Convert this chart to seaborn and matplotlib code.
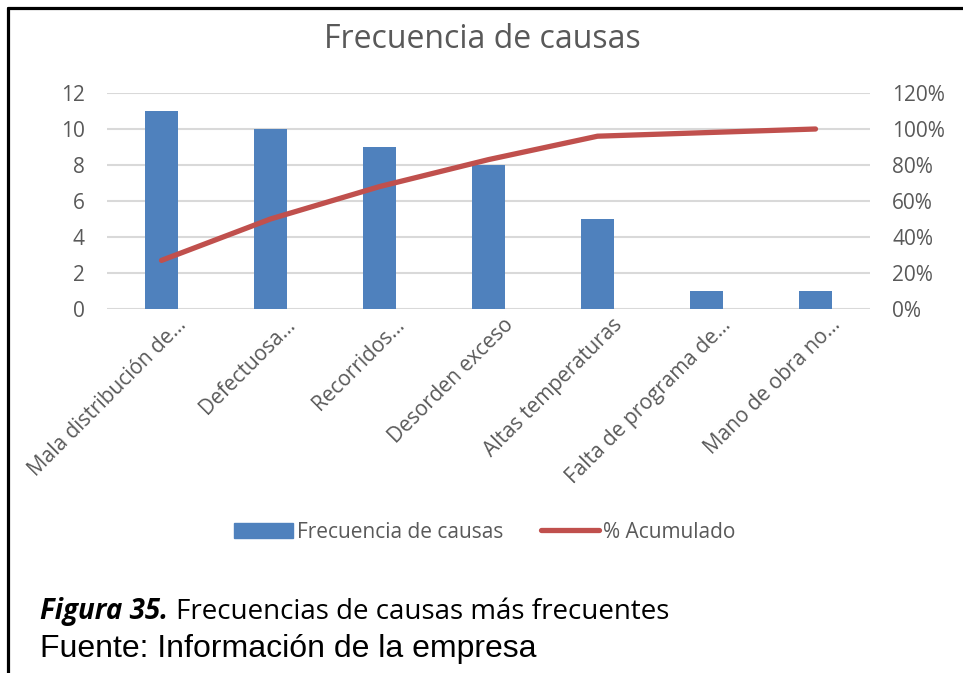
import numpy as np
import pandas as pd
import matplotlib.pyplot as plt
import matplotlib.transforms as mtrans
import seaborn as sns
from matplotlib.lines import Line2D
from matplotlib.ticker import FuncFormatter

# Data
causas = ['Mala distribución de...', 'Defectuosa...', 'Recorridos...',
          'Desorden exceso', 'Altas temperaturas', 'Falta de programa de...',
          'Mano de obra no...']
frecuencia = [11, 10, 9, 8, 5, 1, 1]
acumulado = [0.27, 0.50, 0.68, 0.83, 0.96, 0.98, 1.00]

BLUE = '#4F81BD'
RED = '#C0504D'
GRAY = '#595959'
GRID = '#D9D9D9'

sns.set_style('white')
plt.rcParams['font.family'] = ['Open Sans', 'DejaVu Sans']

df = pd.DataFrame({'causa': causas, 'frecuencia': frecuencia, 'acumulado': acumulado})

W, H = 963, 673
fig = plt.figure(figsize=(W / 100, H / 100), dpi=100)

# axes placed in pixel coords
left, right, top, bottom = 107, 870, 93, 309
ax = fig.add_axes([left / W, 1 - bottom / H, (right - left) / W, (bottom - top) / H])

sns.barplot(data=df, x='causa', y='frecuencia', color=BLUE, width=0.31,
            saturation=1, linewidth=0, ax=ax, zorder=3)
ax.set_ylim(0, 12)
ax.set_yticks(np.arange(0, 13, 2))
ax.set_xlim(-0.5, len(causas) - 0.5)
ax.yaxis.grid(True, color=GRID, linewidth=1.5, zorder=0)
ax.set_axisbelow(True)
ax.set_xlabel('')
ax.set_ylabel('')
for s in ax.spines.values():
    s.set_visible(False)
ax.tick_params(axis='y', length=0, pad=16, labelsize=15, labelcolor=GRAY)
ax.tick_params(axis='x', length=0, pad=4, labelsize=15, labelcolor=GRAY)
ax.set_xticks(range(len(causas)))
ax.set_xticklabels(causas, rotation=45, ha='right', rotation_mode='anchor')
offset = mtrans.ScaledTranslation(14 / 100, 0, fig.dpi_scale_trans)
for lbl in ax.get_xticklabels():
    lbl.set_transform(lbl.get_transform() + offset)

ax2 = ax.twinx()
sns.lineplot(data=df, x='causa', y='acumulado', color=RED, linewidth=3.8,
             ax=ax2, solid_capstyle='round', zorder=4)
ax2.set_ylim(0, 1.2)
ax2.set_yticks(np.arange(0, 1.21, 0.2))
ax2.yaxis.set_major_formatter(FuncFormatter(lambda v, p: f'{v * 100:.0f}%'))
ax2.set_ylabel('')
for s in ax2.spines.values():
    s.set_visible(False)
ax2.tick_params(axis='y', length=0, pad=16, labelsize=15, labelcolor=GRAY)

fig.text(482 / W, 1 - 40 / H, 'Frecuencia de causas', ha='center', va='center',
         fontsize=23, color=GRAY)

handles = [plt.Rectangle((0, 0), 1, 1, color=BLUE),
           Line2D([0], [0], color=RED, linewidth=3.8, solid_capstyle='round')]
fig.legend(handles, ['Frecuencia de causas', '% Acumulado'], loc='center',
           bbox_to_anchor=(485 / W, 1 - 532 / H), ncol=2, frameon=False,
           fontsize=15, labelcolor=GRAY, handlelength=2.8, handleheight=0.75,
           handletextpad=0.2, columnspacing=1.8)

# caption
t1 = fig.text(40 / W, 1 - 612 / H, 'Figura 35.', fontsize=20, fontweight='bold',
              fontstyle='italic', color='black', va='center')
fig.canvas.draw()
bb = t1.get_window_extent()
fig.text((bb.x1 + 8) / W, 1 - 612 / H, 'Frecuencias de causas más frecuentes',
         fontsize=20, color='black', va='center')
fig.text(40 / W, 1 - 649 / H, 'Fuente: Información de la empresa', fontsize=23,
         color='black', va='center', family=['Liberation Sans', 'DejaVu Sans'])

# border (top and left)
fig.add_artist(Line2D([8 / W, 1], [1 - 8 / H, 1 - 8 / H], color='black', linewidth=2.3,
                      transform=fig.transFigure))
fig.add_artist(Line2D([8 / W, 8 / W], [0, 1 - 8 / H], color='black', linewidth=2.3,
                      transform=fig.transFigure))

fig.savefig('out.png', dpi=100)
